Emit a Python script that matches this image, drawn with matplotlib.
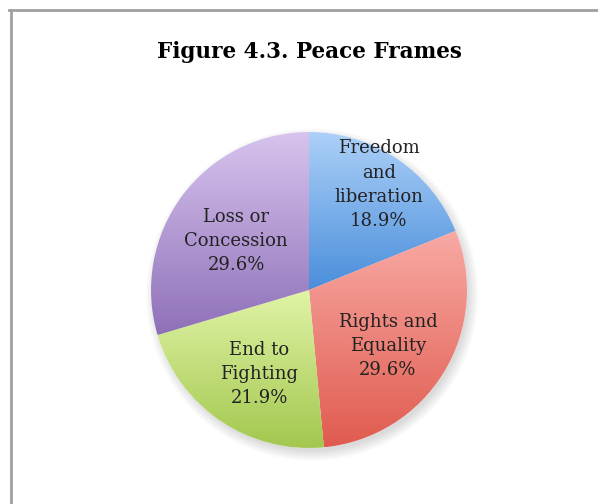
import matplotlib
matplotlib.use("Agg")
import matplotlib.pyplot as plt
import numpy as np
from matplotlib.colors import LinearSegmentedColormap
from matplotlib.lines import Line2D
from matplotlib.patches import Circle

# slice data, clockwise from 12 o'clock
labels = ["Freedom\nand\nliberation", "Rights and\nEquality", "End to\nFighting", "Loss or\nConcession"]
shares = [18.9, 29.6, 21.9, 29.6]
top_colors = ["#acd0f8", "#f8aaa4", "#e0f4a6", "#d8c4ee"]
bottom_colors = ["#4a8edb", "#e05b4f", "#a3c74f", "#8e70b8"]
label_pos = [(0.443, 0.665), (0.5, -0.354), (-0.316, -0.532), (-0.462, 0.31)]

W, H = 598, 504
fig = plt.figure(figsize=(W / 100, H / 100), dpi=100)

# frame (only top and left edges are visible in the crop)
fig.add_artist(Line2D([9 / W, 1], [1 - 9.5 / H] * 2, color="#a0a0a0", lw=2))
fig.add_artist(Line2D([10.5 / W] * 2, [0, 1 - 9.5 / H], color="#a0a0a0", lw=2))

fig.text(309 / W, 1 - 52 / H, "Figure 4.3. Peace Frames", ha="center", va="center",
         fontsize=15.5, fontweight="bold", family="DejaVu Serif")

ax = fig.add_axes([151 / W, 56 / H, 316 / W, 316 / H])

# soft drop shadow
for i in range(6):
    ax.add_patch(Circle((0.02, -0.03), 0.99 + 0.012 * i, color="k", alpha=0.025, lw=0,
                        zorder=0, clip_on=False))

wedges, _ = ax.pie(shares, startangle=90, counterclock=False, radius=1,
                   wedgeprops=dict(linewidth=0))

grad = np.linspace(0, 1, 256).reshape(-1, 1)
for w, c0, c1 in zip(wedges, top_colors, bottom_colors):
    w.set_facecolor("white")
    w.set_zorder(1)
    w.set_clip_on(False)
    bb = w.get_path().get_extents()
    cmap = LinearSegmentedColormap.from_list("g", [c0, c1])
    im = ax.imshow(grad, cmap=cmap, aspect="auto", origin="upper",
                   extent=[bb.x0, bb.x1, bb.y0, bb.y1], zorder=2)
    im.set_clip_path(w)

for lab, v, (x, y) in zip(labels, shares, label_pos):
    ax.text(x, y, f"{lab}\n{v}%", ha="center", va="center", fontsize=13,
            family="DejaVu Serif", linespacing=1.45, color="#222222", zorder=3)

ax.set_xlim(-1, 1)
ax.set_ylim(-1, 1)
ax.set_aspect("auto")
ax.axis("off")

fig.savefig("out.png", dpi=100)
